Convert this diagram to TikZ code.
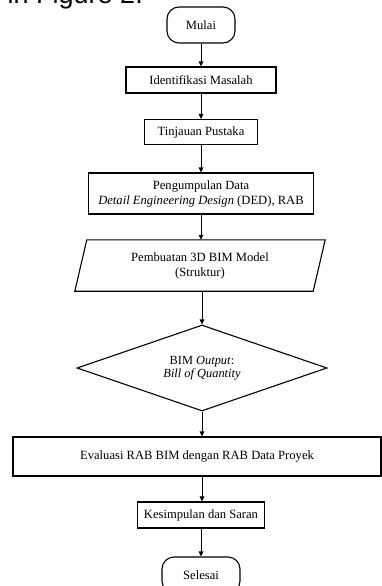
\documentclass[tikz,border=0pt]{standalone}
\usepackage{fontspec}
\setmainfont{Liberation Serif}
\newfontfamily\headfont{Liberation Sans}
\usetikzlibrary{arrows.meta,shapes.geometric}

\begin{document}
\begin{tikzpicture}[x=1pt,y=-1pt,
  txt/.style={font=\fontsize{12.6}{15}\selectfont, align=center, inner sep=0pt},
  procbox/.style={txt, draw, line width=1.1pt, rectangle},
  termbox/.style={txt, draw, line width=1.1pt, rounded corners=12pt},
  decbox/.style={txt, draw, line width=1.1pt, diamond, aspect=2.9},
  flow/.style={line width=1pt, -{Triangle[length=5pt,width=4.5pt]}}
]
\useasboundingbox (0,0) rectangle (382,586);
\begin{scope}
\clip (0,0) rectangle (382,586);

% caption line of the surrounding page, cut by the top edge
\node[anchor=base east, inner sep=0pt, font=\headfont\fontsize{27}{32}\selectfont] (cap) at (143,3.5) {in Figure 2.};

% flowchart nodes
\node[termbox, minimum width=68pt, minimum height=36pt] (start) at (201,25) {Mulai};
\node[procbox, minimum width=150pt, minimum height=26pt] (ident) at (201,80) {Identifikasi Masalah};
\node[procbox, minimum width=113pt, minimum height=25pt] (lit) at (201,132) {Tinjauan Pustaka};
\node[procbox, minimum width=225pt, minimum height=41pt] (data) at (201,193.5)
  {Pengumpulan Data\\\textit{Detail Engineering Design} (DED), RAB};

% parallelogram (input/output) drawn around a plain text node
\node[txt, minimum width=238pt, minimum height=51pt] (model) at (200,265.5)
  {Pembuatan 3D BIM Model\\(Struktur)};
\draw[line width=1.1pt] ([xshift=6pt]model.north west) -- ([xshift=6pt]model.north east)
  -- ([xshift=-6pt]model.south east) -- ([xshift=-6pt]model.south west) -- cycle;

\node[decbox, minimum width=250pt, minimum height=86pt, font=\fontsize{12.4}{13.5}\selectfont] (boq) at (202,368)
  {BIM \textit{Output}:\\\textit{Bill of Quantity}};
\node[procbox, minimum width=368pt, minimum height=39pt] (eval) at (197,456.5)
  {Evaluasi RAB BIM dengan RAB Data Proyek};
\node[procbox, minimum width=127pt, minimum height=26pt] (concl) at (201,515) {Kesimpulan dan Saran};
\node[termbox, minimum width=78pt, minimum height=36pt] (finish) at (201,575) {Selesai};

% connectors
\draw[flow] (start.south) -- (start.south |- ident.north);
\draw[flow] (ident.south) -- (ident.south |- lit.north);
\draw[flow] (lit.south) -- (lit.south |- data.north);
\draw[flow] (data.south) -- (data.south |- model.north);
\draw[flow] (model.south -| boq.north) -- (boq.north);
\draw[flow] (boq.south) -- (boq.south |- eval.north);
\draw[flow] (boq.south |- eval.south) -- (boq.south |- concl.north);
\draw[flow] (concl.south) -- (concl.south |- finish.north);
\end{scope}
\end{tikzpicture}
\end{document}
